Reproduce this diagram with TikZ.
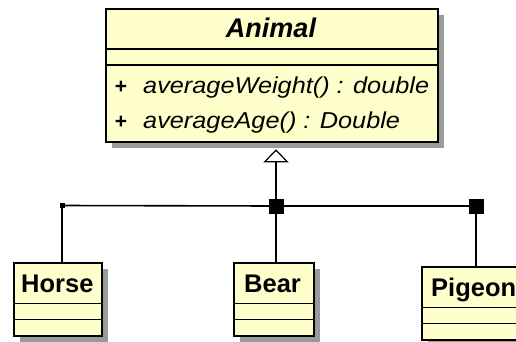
\documentclass[tikz,border=0pt]{standalone}
\usepackage{fontspec}
\setmainfont{Liberation Sans}
\usetikzlibrary{arrows.meta,shadows}
\definecolor{umlfill}{HTML}{FFFFCC}
\definecolor{umlshadow}{HTML}{9A9A9A}
\newcommand{\wideop}[1]{\scalebox{1.1}[1]{#1}}
\begin{document}
\begin{tikzpicture}[x=1pt,y=-1pt,
  classbox/.style={draw=black, line width=1.6pt, fill=umlfill, inner sep=0pt,
    drop shadow={shadow xshift=5.5pt, shadow yshift=-5.5pt, fill=umlshadow, opacity=1}},
  sepline/.style={line width=1.6pt},
  conn/.style={line width=1.6pt},
  junction/.style={fill=black, draw=none, minimum size=15pt, inner sep=0pt},
  dotj/.style={fill=black, draw=none, minimum size=5pt, inner sep=0pt},
  titletext/.style={font=\fontsize{27}{31}\selectfont\bfseries\itshape, anchor=base, inner sep=0pt},
  nametext/.style={font=\fontsize{25.5}{29}\selectfont\bfseries, anchor=base west, inner sep=0pt},
  optext/.style={font=\fontsize{23}{27}\selectfont\itshape, anchor=base west, inner sep=0pt},
  plustext/.style={font=\fontsize{21}{25}\selectfont\bfseries, anchor=base, inner sep=0pt}
]
\useasboundingbox (0,0) rectangle (516,341);
\clip (0,0) rectangle (516,341);
\fill[white] (0,0) rectangle (516,341);

% Animal class
\node[classbox, minimum width=332pt, minimum height=133pt] (animal) at (272,75.5) {};
\draw[sepline] (animal.west |- 0,49) -- (animal.east |- 0,49);
\draw[sepline] (animal.west |- 0,65) -- (animal.east |- 0,65);
\node[titletext] (animaltitle) at (271,37) {Animal};
\node[plustext] (plus1) at (121,93) {+};
\node[optext] (op1) at (143,93) {\wideop{averageWeight() : double}};
\node[plustext] (plus2) at (121,128) {+};
\node[optext] (op2) at (143,128) {\wideop{averageAge() : Double}};

% Horse
\node[classbox, minimum width=88pt, minimum height=73pt] (horse) at (58,299.5) {};
\draw[sepline] (horse.west |- 0,303.5) -- (horse.east |- 0,303.5);
\draw[sepline] (horse.west |- 0,319.5) -- (horse.east |- 0,319.5);
\node[nametext] (horsename) at (21,292) {Horse};

% Bear
\node[classbox, minimum width=80pt, minimum height=73pt] (bear) at (274,299.5) {};
\draw[sepline] (bear.west |- 0,303.5) -- (bear.east |- 0,303.5);
\draw[sepline] (bear.west |- 0,319.5) -- (bear.east |- 0,319.5);
\node[nametext] (bearname) at (244,292) {Bear};

% Pigeon
\node[classbox, minimum width=116pt, minimum height=73pt] (pigeon) at (480,303.5) {};
\draw[sepline] (pigeon.west |- 0,307.5) -- (pigeon.east |- 0,307.5);
\draw[sepline] (pigeon.west |- 0,323.5) -- (pigeon.east |- 0,323.5);
\node[nametext] (pigeonname) at (431,296) {Pigeon};

% junctions
\node[dotj] (jh) at (62,205.5) {};
\node[junction] (jb) at (276,206) {};
\node[junction] (jp) at (476,206) {};

% connectors
\draw[conn] (jh.center) -- (jb.center) -- (jp.center);
\draw[conn] (jh.center) -- (jh.center |- horse.north);
\draw[conn] (jb.center) -- (jb.center |- bear.north);
\draw[conn] (jp.center) -- (jp.center |- pigeon.north);
\draw[conn, -{Triangle[open, width=25pt, length=13pt, fill=white, line width=1.2pt]}, shorten >=6.5pt]
  (jb.center) -- (jb.center |- animal.south);
\end{tikzpicture}
\end{document}
